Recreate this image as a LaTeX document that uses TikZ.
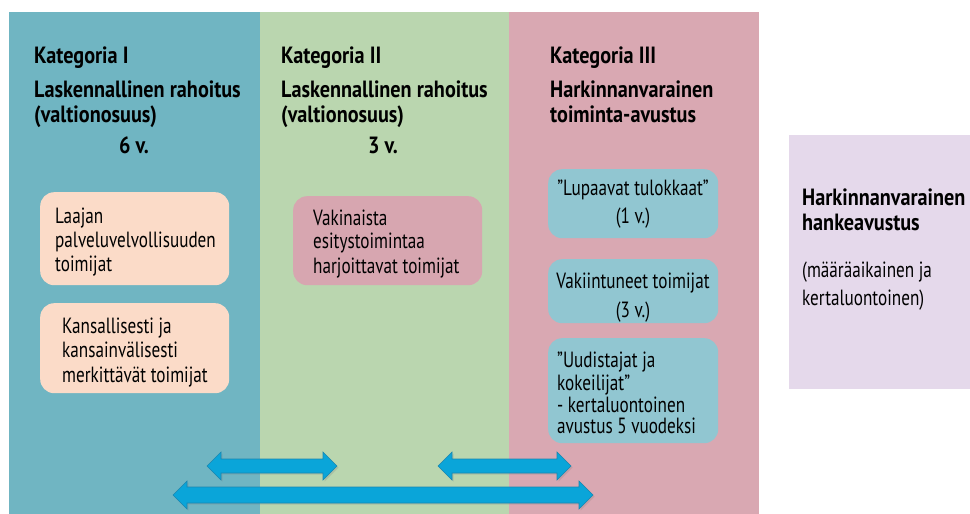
\documentclass[tikz,border=0pt]{standalone}
\usepackage{fontspec}
\setmainfont{PT Sans}[FakeStretch=0.78]
\newfontfamily\ttlfam{PT Sans}[FakeStretch=0.86]
\newfontfamily\txtfam{PT Sans}[FakeStretch=0.78]
\usetikzlibrary{shadows}
\definecolor{colA}{HTML}{70B5C2}
\definecolor{colB}{HTML}{BAD6AF}
\definecolor{colC}{HTML}{D9A8B2}
\definecolor{colD}{HTML}{E5D9EB}
\definecolor{peach}{HTML}{FBDBC8}
\definecolor{pinkbox}{HTML}{D7A6B0}
\definecolor{bluebox}{HTML}{91C6D1}
\definecolor{arrfill}{HTML}{0AA5D9}
\definecolor{arredge}{HTML}{1A86B0}
\newcommand\ttlfont{\ttlfam\bfseries\fontsize{23.5}{25}\selectfont}
\newcommand\txtfont{\txtfam\fontsize{22}{24}\selectfont}
\newcommand\dblarr[5]{%
  \filldraw[arrsty] (#1,#3) -- (#1+14,#3-#5) -- (#1+14,#3-#4) -- (#2-14,#3-#4)
    -- (#2-14,#3-#5) -- (#2,#3) -- (#2-14,#3+#5) -- (#2-14,#3+#4)
    -- (#1+14,#3+#4) -- (#1+14,#3+#5) -- cycle;}
\begin{document}
\begin{tikzpicture}[x=1pt,y=-1pt,
  colbox/.style={inner sep=0pt,anchor=north west},
  rbox/.style={rounded corners=14pt,inner sep=0pt,anchor=north west},
  ttl/.style={font=\ttlfont,anchor=base west,inner sep=0pt},
  ttlc/.style={font=\ttlfont,anchor=base,inner sep=0pt},
  txt/.style={font=\txtfont,anchor=base west,inner sep=0pt},
  txtc/.style={font=\txtfont,anchor=base,inner sep=0pt},
  arrsty/.style={fill=arrfill,draw=arredge,line width=0.6pt,
    drop shadow={opacity=0.25,shadow xshift=1.5pt,shadow yshift=-1.5pt}}]
\useasboundingbox (0,0) rectangle (970,514);
\fill[white] (0,0) rectangle (970,514);
% columns
\node[colbox,fill=colA,minimum width=251pt,minimum height=502pt] (c1) at (9,12) {};
\node[colbox,fill=colB,minimum width=249pt,minimum height=502pt] (c2) at (260,12) {};
\node[colbox,fill=colC,minimum width=250pt,minimum height=502pt] (c3) at (509,12) {};
\node[colbox,fill=colD,minimum width=181pt,minimum height=254pt] (c4) at (789,135) {};
% titles
\node[ttl] (t1a) at (34,63) {Kategoria I};
\node[ttl] (t1b) at (34,97) {Laskennallinen rahoitus};
\node[ttl] (t1c) at (34,122) {(valtionosuus)};
\node[ttlc] (t1d) at (134,153) {6 v.};
\node[ttl] (t2a) at (281,63) {Kategoria II};
\node[ttl] (t2b) at (281,97) {Laskennallinen rahoitus};
\node[ttl] (t2c) at (281,122) {(valtionosuus)};
\node[ttlc] (t2d) at (383,153) {3 v.};
\node[ttl] (t3a) at (550,63) {Kategoria III};
\node[ttl] (t3b) at (550,97) {Harkinnanvarainen};
\node[ttl] (t3c) at (550,122) {toiminta-avustus};
\node[ttl] (t4a) at (802,205) {Harkinnanvarainen};
\node[ttl] (t4b) at (802,230) {hankeavustus};
\node[txt] (t4c) at (802,277) {(määräaikainen ja};
\node[txt] (t4d) at (802,305) {kertaluontoinen)};
% boxes
\node[rbox,fill=peach,minimum width=189pt,minimum height=93pt] (b1) at (40,192) {};
\node[rbox,fill=peach,minimum width=189pt,minimum height=90pt] (b2) at (40,303) {};
\node[rbox,fill=pinkbox,minimum width=189pt,minimum height=89pt] (b3) at (293,196) {};
\node[rbox,fill=bluebox,minimum width=170pt,minimum height=69pt] (b4) at (548,169) {};
\node[rbox,fill=bluebox,minimum width=170pt,minimum height=64pt] (b5) at (548,259) {};
\node[rbox,fill=bluebox,minimum width=170pt,minimum height=105pt] (b6) at (548,338) {};
% box texts
\node[txt] (b1a) at (55,223) {Laajan};
\node[txt] (b1b) at (55,247) {palveluvelvollisuuden};
\node[txt] (b1c) at (55,271) {toimijat};
\node[txt] (b2a) at (62,333) {Kansallisesti ja};
\node[txt] (b2b) at (62,357) {kansainvälisesti};
\node[txt] (b2c) at (62,382) {merkittävät toimijat};
\node[txt] (b3a) at (313,225) {Vakinaista};
\node[txt] (b3b) at (313,248) {esitystoimintaa};
\node[txt] (b3c) at (313,273) {harjoittavat toimijat};
\node[txtc] (b4a) at (633,195) {”Lupaavat tulokkaat”};
\node[txtc] (b4b) at (633,223) {(1 v.)};
\node[txtc] (b5a) at (633,288) {Vakiintuneet toimijat};
\node[txtc] (b5b) at (633,317) {(3 v.)};
\node[txt] (b6a) at (557,367) {”Uudistajat ja};
\node[txt] (b6b) at (557,390) {kokeilijat”};
\node[txt] (b6c) at (557,412) {- kertaluontoinen};
\node[txt] (b6d) at (557,433) {avustus 5 vuodeksi};
% arrows
\dblarr{207}{337}{466}{7}{14}
\dblarr{438}{571}{466}{7}{14}
\dblarr{173}{593}{495}{8}{14}
\end{tikzpicture}
\end{document}
